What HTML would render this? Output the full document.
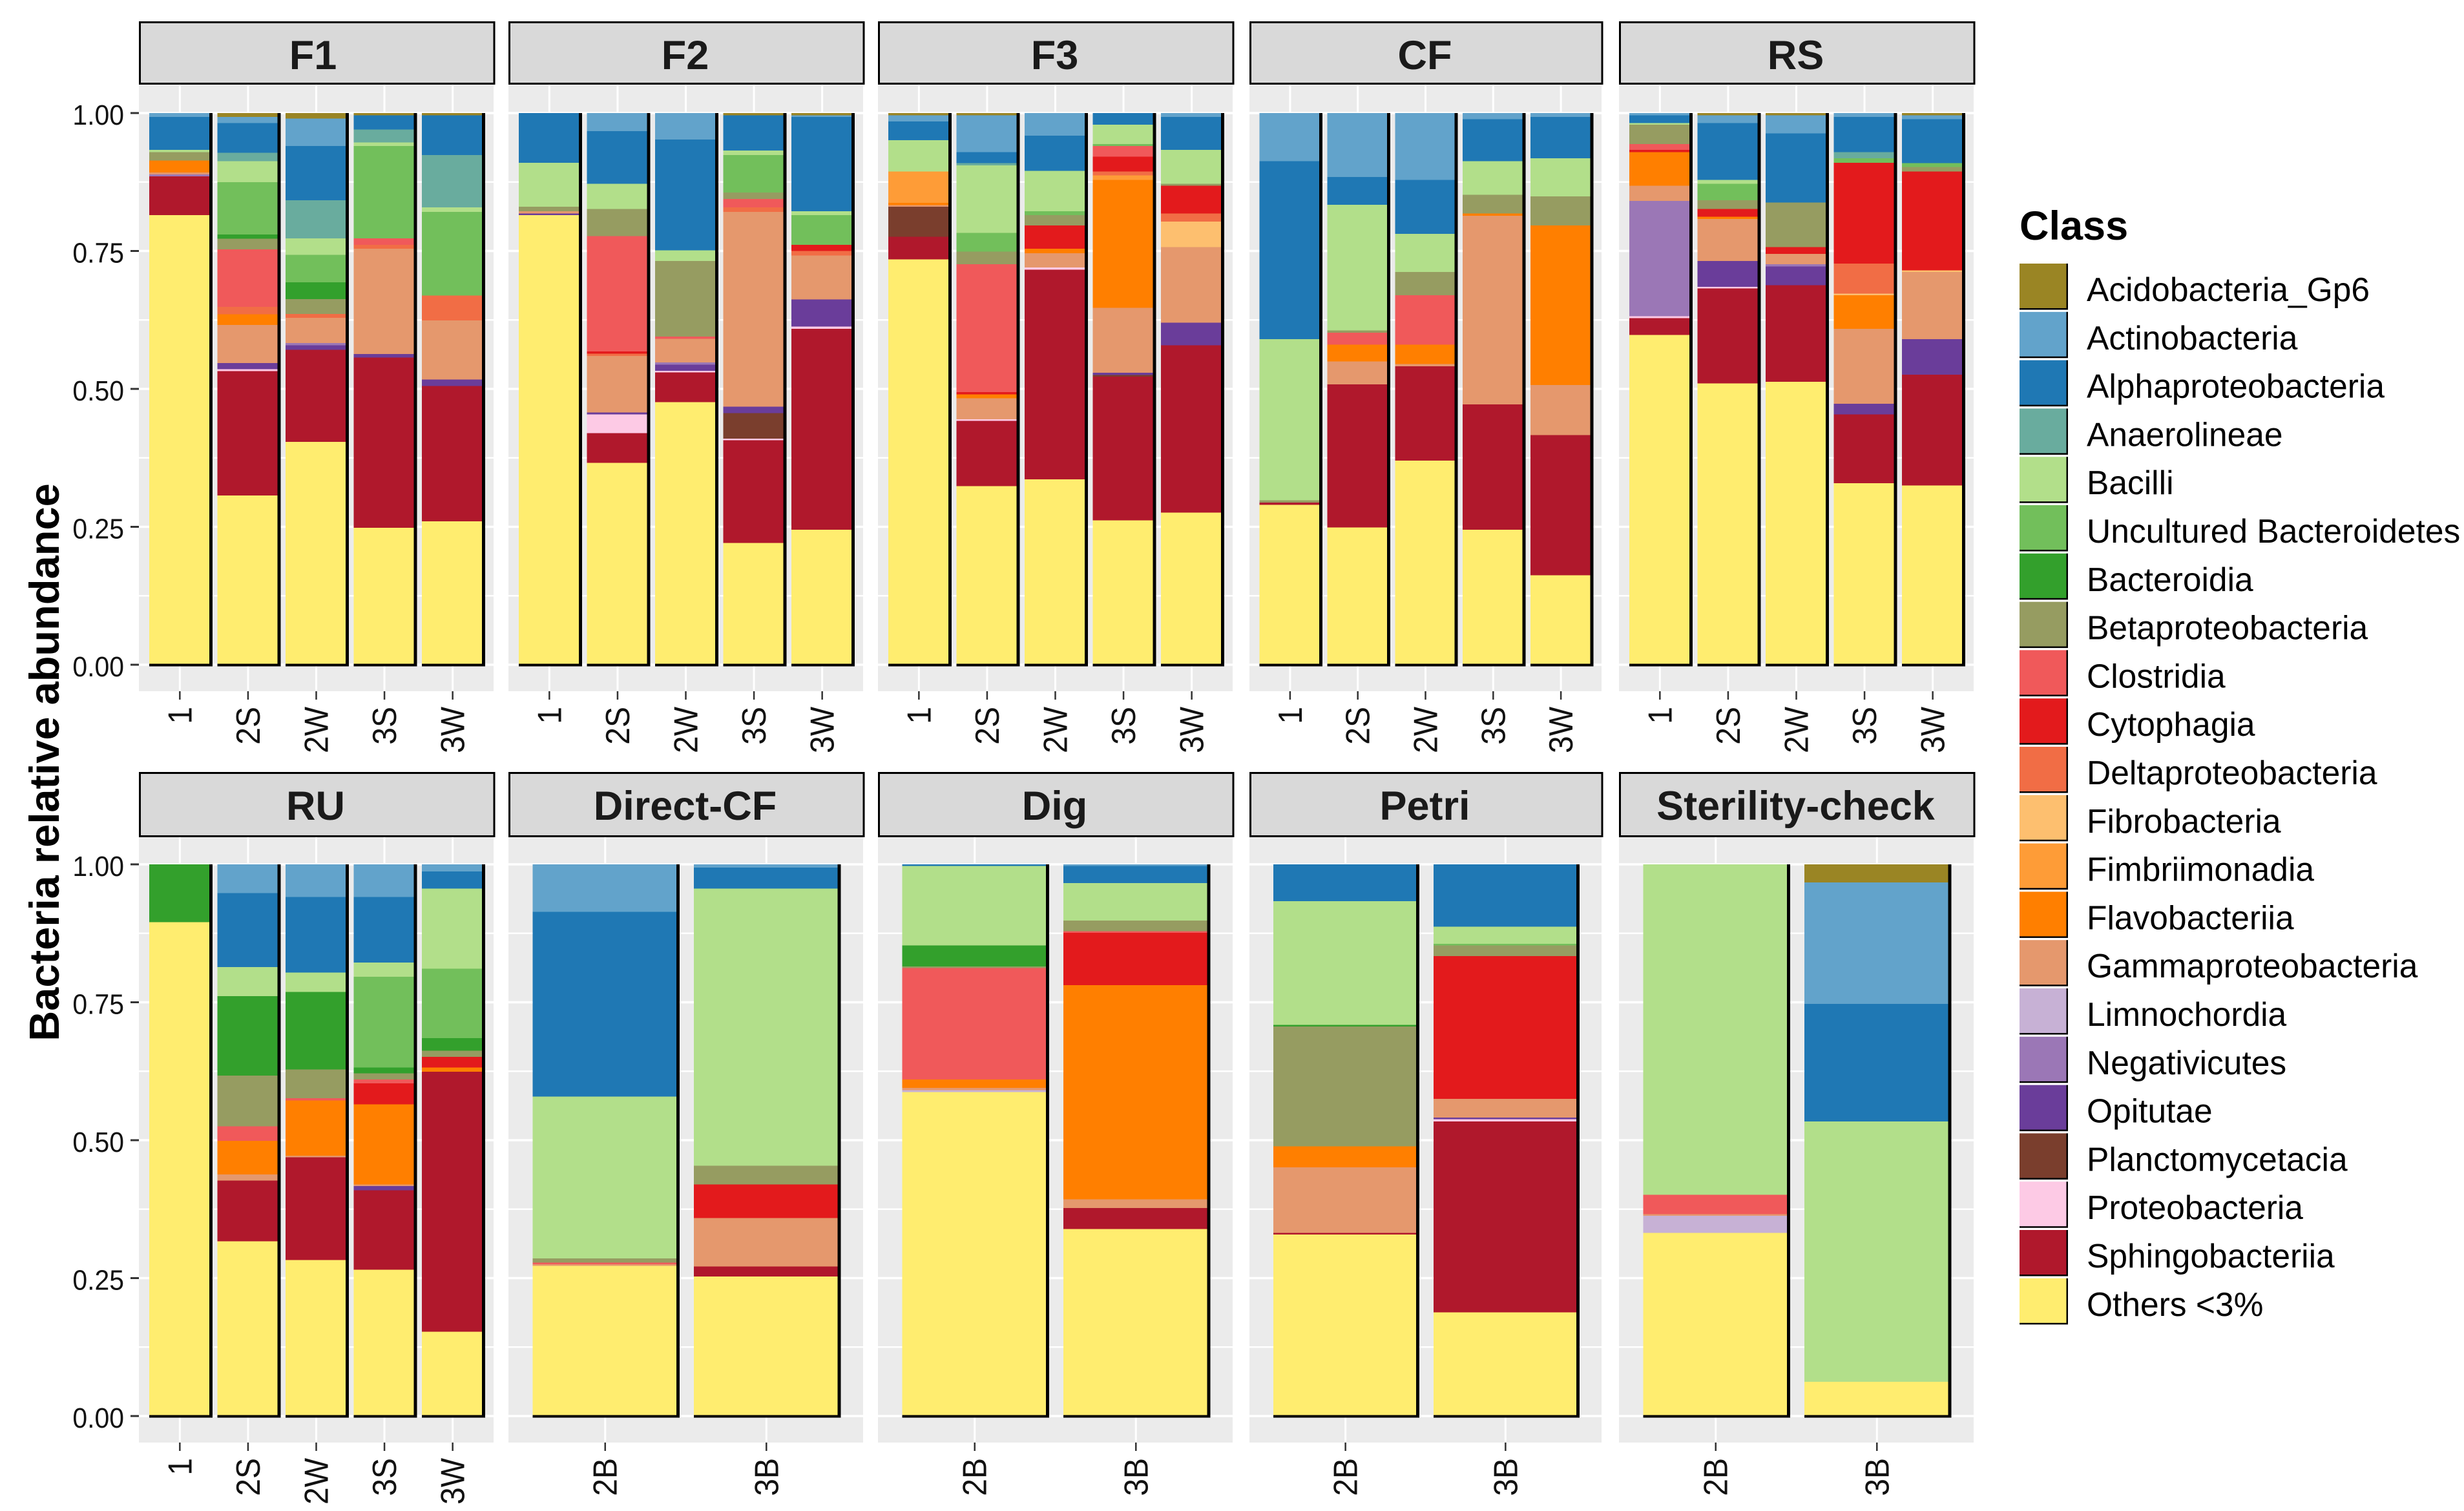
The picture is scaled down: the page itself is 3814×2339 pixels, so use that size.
<!DOCTYPE html>
<html lang="en">
<head>
<meta charset="utf-8">
<title>Bacteria relative abundance by class</title>
<style>
html,body{margin:0;padding:0;background:#fff;}
svg{display:block;font-family:"Liberation Sans",sans-serif;}
</style>
</head>
<body>
<svg id="chart" xmlns="http://www.w3.org/2000/svg" width="3814" height="2339" viewBox="0 0 3814 2339">
  <rect x="0" y="0" width="3814" height="2339" fill="#ffffff"/>
  <text x="0" y="0" transform="translate(91 1180) rotate(-90)" text-anchor="middle" font-size="65" font-weight="bold" fill="#000">Bacteria relative abundance</text>
  <text x="3126" y="371" font-size="63" font-weight="bold" fill="#000">Class</text>
</svg>
<script>
// ---- Data ----
const classNames = ["Acidobacteria_Gp6","Actinobacteria","Alphaproteobacteria","Anaerolineae","Bacilli","Uncultured Bacteroidetes","Bacteroidia","Betaproteobacteria","Clostridia","Cytophagia","Deltaproteobacteria","Fibrobacteria","Fimbriimonadia","Flavobacteriia","Gammaproteobacteria","Limnochordia","Negativicutes","Opitutae","Planctomycetacia","Proteobacteria","Sphingobacteriia","Others <3%"];
const panelNames = ["F1","F2","F3","CF","RS","RU","Direct-CF","Dig","Petri","Sterility-check"];
const timeCategories = ["1","2S","2W","3S","3W"];
const batchCategories = ["2B","3B"];
const yTickValues = [0,0.25,0.5,0.75,1];
const yTickLabels = ["0.00","0.25","0.50","0.75","1.00"];
const yMinorValues = [0.125,0.375,0.625,0.875];

// Each row: one bar; each value: one class, in classNames order.
const valuesF1 = [
 [0,.007,.060,0,.004,0,0,.015,0,0,0,0,0,.022,.003,0,.004,0,0,0,.070,.815],
 [.007,.011,.054,.015,.038,.095,.008,.019,.104,0,.014,0,0,.019,.069,0,0,.011,0,.004,.225,.307],
 [.010,.050,.098,.069,.030,.050,.030,.027,0,0,.007,0,0,0,.046,0,.004,.008,0,0,.167,.404],
 [.004,0,.026,.023,.007,.167,0,0,.012,0,.007,0,0,0,.191,0,0,.006,0,0,.309,.248],
 [.004,0,.072,.095,.008,.152,0,0,0,0,.045,0,0,0,.107,0,0,.012,0,0,.245,.260]
];
const valuesF2 = [
 [0,0,.090,0,.080,0,0,.008,0,0,0,0,0,0,.004,0,0,.003,0,0,0,.815],
 [0,.033,.095,0,.046,0,0,.049,.209,.004,.004,0,0,0,.103,0,0,.003,0,.034,.054,.366],
 [0,.048,.201,0,.019,0,0,.137,.004,0,0,0,0,0,.043,0,.004,.011,0,.003,.054,.476],
 [.004,0,.064,0,.008,.068,0,.012,.015,0,.008,0,0,0,.353,0,0,.012,.046,.003,.186,.221],
 [.004,.003,.171,0,.007,.054,0,0,0,.011,.008,0,0,0,.080,0,0,.049,0,.004,.364,.245]
];
const valuesF3 = [
 [.004,.011,.034,0,.057,0,0,0,0,0,0,0,.057,.004,.003,0,0,0,.054,0,.041,.735],
 [.004,.067,.020,.004,.122,.034,0,.023,.232,.004,0,0,0,.007,.038,0,0,0,0,.003,.118,.324],
 [0,.041,.064,0,.073,.007,0,.019,0,.042,0,0,0,.008,.026,0,0,0,0,.004,.380,.336],
 [0,0,.021,0,.035,.004,0,0,.019,.027,.007,0,.008,.232,.118,0,0,.004,.003,0,.260,.262],
 [0,.007,.060,0,.061,0,0,.004,0,.050,.015,.046,0,0,.137,0,0,.041,0,0,.303,.276]
];
const valuesCF = [
 [0,.087,.323,0,.292,0,0,.004,0,0,0,0,0,0,0,0,0,0,0,0,.004,.290],
 [0,.116,.050,0,.228,0,0,.004,.022,0,0,0,0,.030,.042,0,0,0,0,0,.259,.249],
 [0,.121,.098,0,.069,0,0,.042,.090,0,0,0,0,.035,.004,0,0,0,0,0,.171,.370],
 [0,.011,.076,0,.061,0,0,.034,0,0,0,0,0,.004,.342,0,0,0,0,0,.227,.245],
 [0,.007,.075,0,.069,0,0,.053,0,0,0,0,0,.289,.091,0,0,0,0,0,.254,.162]
];
const valuesRS = [
 [0,.004,.014,0,.003,0,0,.035,.011,.004,0,0,0,.061,.027,0,.209,0,0,.004,.030,.598],
 [.004,.014,.103,0,.007,.030,0,.016,0,.014,0,0,0,.004,.076,0,0,.047,0,.003,.172,.510],
 [.004,.033,.125,0,0,0,0,.081,0,.012,0,0,0,0,.019,0,.004,.034,0,0,.175,.513],
 [0,.007,.064,.011,0,.008,0,0,0,.183,.054,.003,0,.061,.136,0,0,.019,0,0,.125,.329],
 [.004,.007,.080,0,0,.007,0,.008,0,.179,0,.003,0,0,.122,0,0,.064,0,0,.201,.325]
];
const valuesRU = [
 [0,0,0,0,0,0,.105,0,0,0,0,0,0,0,0,0,0,0,0,0,0,.895],
 [0,.052,.134,0,.053,0,.144,.092,.026,0,0,0,0,.061,.011,0,0,0,0,0,.110,.317],
 [0,.059,.137,0,.035,0,.141,.052,.004,0,0,0,0,.100,.003,0,0,0,0,0,.186,.283],
 [0,.059,.119,0,.026,.164,.011,.011,.007,.038,0,0,0,.145,.003,0,0,.008,0,0,.144,.265],
 [0,.013,.031,0,.145,.126,.023,.011,0,.019,0,0,0,.008,0,0,0,0,0,0,.471,.153]
];
const valuesDirectCF = [
 [0,.086,.335,0,.293,0,0,.008,.003,0,0,0,0,0,.003,0,0,0,0,0,0,.272],
 [0,.006,.038,0,.502,0,0,.034,0,.061,0,0,0,0,.088,0,0,0,0,0,.018,.253]
];
const valuesDig = [
 [0,0,.003,0,.144,0,.038,.003,.202,0,0,0,0,.015,.004,.004,0,0,0,0,0,.587],
 [0,.003,.031,0,.068,0,0,.019,.003,.095,0,0,0,.388,.016,0,0,0,0,0,.038,.339]
];
const valuesPetri = [
 [0,0,.067,0,.224,0,.003,.217,0,0,0,0,0,.038,.119,0,0,0,0,0,.003,.329],
 [0,0,.113,0,.031,.003,0,.019,0,.259,0,0,0,0,.034,0,0,.003,0,.004,.346,.188]
];
const valuesSterility = [
 [0,0,0,0,.599,0,0,0,.035,0,0,0,0,0,.003,.031,0,0,0,0,0,.332],
 [.033,.220,.213,0,.472,0,0,0,0,0,0,0,0,0,0,0,0,0,0,0,0,.062]
];

// ---- Styles ----
const classColors = ["#9A8524","#62A3CB","#1F78B4","#69AC9E","#B2DF8A","#72BF5B","#33A02C","#969C61","#F0595A","#E31A1C","#F16D45","#FDBF6F","#FE9C37","#FF7F00","#E5986D","#C7B1D5","#9B77B6","#6A3D9A","#7A3E2D","#FDCAE5","#B0182C","#FFED6F"];

// ---- Layout ----
const columnFrames = [{l:215,r:764},{l:787,r:1336},{l:1359,r:1908},{l:1934,r:2479},{l:2506,r:3055}];
const rowFrames = [
  {stripTop:33,stripBottom:131,panelTop:131,panelBottom:1070,y1:175,y0:1029,titleBase:107},
  {stripTop:1195,stripBottom:1296,panelTop:1296,panelBottom:2233,y1:1338,y0:2192,titleBase:1269}
];
const SVGNS = "http://www.w3.org/2000/svg";
const chart = document.getElementById("chart");

function make(tag, attrs, parent){
  const node = document.createElementNS(SVGNS, tag);
  for (const k in attrs) node.setAttribute(k, attrs[k]);
  parent.appendChild(node);
  return node;
}
// Axis functions
function yScale(row, v){ return row.y0 - v * (row.y0 - row.y1); }
function xStep(col, n){ return (col.r - col.l) / (n - 1 + 1.2); }
function xScale(col, n, i){ return col.l + (i + 0.6) * xStep(col, n); }

function drawPanel(index, categories, values){
  const col = columnFrames[index % 5];
  const row = rowFrames[Math.floor(index / 5)];
  const n = categories.length;
  const g = make("g", {}, chart);
  
  

  const bg = make("rect", {x:col.l, y:row.panelTop, width:col.r-col.l, height:row.panelBottom-row.panelTop, fill:"#EBEBEB"}, g);
  
  

  yMinorValues.forEach(function(v){
    const line = make("rect", {x:col.l, y:yScale(row,v)-1.25, width:col.r-col.l, height:2.5, fill:"#FFFFFF"}, g);
    
    
  });
  yTickValues.forEach(function(v){
    const line = make("rect", {x:col.l, y:yScale(row,v)-1.75, width:col.r-col.l, height:3.5, fill:"#FFFFFF"}, g);
    
    
  });
  categories.forEach(function(c, i){
    const cx = xScale(col, n, i);
    const grid = make("rect", {x:cx-1.5, y:row.panelTop, width:3, height:row.panelBottom-row.panelTop, fill:"#FFFFFF"}, g);
    
    
  });

  // stacked bars, bottom class first
  const step = xStep(col, n);
  values.forEach(function(barValues, i){
    const cx = xScale(col, n, i);
    const left = cx - 0.45 * step;
    const right = cx + 0.45 * step;
    const bar = make("g", {"shape-rendering":"crispEdges"}, g);
    
    
    let cum = 0;
    for (let c = barValues.length - 1; c >= 0; c--){
      const v = barValues[c];
      if (v <= 0) continue;
      const yTop = yScale(row, cum + v);
      const yBot = yScale(row, cum);
      const seg = make("rect", {x:left, y:yTop, width:right-left, height:yBot-yTop, fill:classColors[c]}, bar);
      
      
      cum += v;
    }
    const edgeR = make("rect", {x:right-2, y:yScale(row,cum), width:5, height:yScale(row,0)-yScale(row,cum)+2.5, fill:"#000000"}, bar);
    
    
    const edgeB = make("rect", {x:left, y:yScale(row,0)-1.5, width:right-left+3, height:4, fill:"#000000"}, bar);
    
    
  });

  // strip
  const strip = make("rect", {x:col.l+1.5, y:row.stripTop+1.5, width:col.r-col.l-0.5, height:row.stripBottom-row.stripTop-3, fill:"#D9D9D9", stroke:"#000000", "stroke-width":3}, g);
  
  
  const title = make("text", {x:(col.l+col.r)/2 - (index === 0 ? 5 : 1), y:row.titleBase, "text-anchor":"middle", "font-size":63, "font-weight":"bold", fill:"#1A1A1A"}, g);
  
  
  title.textContent = panelNames[index];

  // x axis
  categories.forEach(function(c, i){
    const cx = xScale(col, n, i);
    const tick = make("rect", {x:cx-1.25, y:row.panelBottom, width:2.5, height:13, fill:"#333333"}, g);
    
    
    const label = make("text", {transform:"translate("+(cx+18)+" "+(row.panelBottom+24)+") rotate(-90) scale(1 1.08)", "text-anchor":"end", "font-size":48, fill:"#111111"}, g);
    
    
    label.textContent = c;
  });

  // y axis (first column only)
  if (index % 5 === 0){
    yTickValues.forEach(function(v, i){
      const tick = make("rect", {x:col.l-13, y:yScale(row,v)-1.5, width:13, height:3, fill:"#333333"}, g);
      
      
      const label = make("text", {transform:"translate("+(col.l-23)+" "+(yScale(row,v)+18)+") scale(0.93 1)", "text-anchor":"end", "font-size":44, fill:"#111111"}, g);
      
      
      label.textContent = yTickLabels[i];
    });
  }
}

drawPanel(0, timeCategories, valuesF1);
drawPanel(1, timeCategories, valuesF2);
drawPanel(2, timeCategories, valuesF3);
drawPanel(3, timeCategories, valuesCF);
drawPanel(4, timeCategories, valuesRS);
drawPanel(5, timeCategories, valuesRU);
drawPanel(6, batchCategories, valuesDirectCF);
drawPanel(7, batchCategories, valuesDig);
drawPanel(8, batchCategories, valuesPetri);
drawPanel(9, batchCategories, valuesSterility);

// legend
classNames.forEach(function(name, i){
  const top = 408 + i * 74.8;
  const g = make("g", {}, chart);
  
  
  const key = make("rect", {x:3126, y:top, width:75, height:71, fill:classColors[i]}, g);
  
  
  const edgeR = make("rect", {x:3198.5, y:top, width:2.5, height:71, fill:"#000000"}, g);
  
  
  const edgeB = make("rect", {x:3126, y:top+69, width:75, height:2.5, fill:"#000000"}, g);
  
  
  const label = make("text", {x:3230, y:top+58, "font-size":51.5, fill:"#000000"}, g);
  
  
  label.textContent = name;
});
</script>
</body>
</html>
